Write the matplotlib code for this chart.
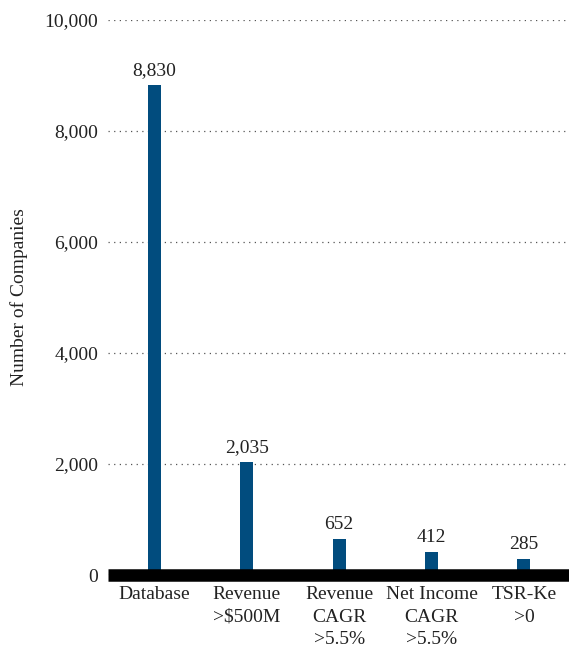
import numpy as np
import matplotlib.pyplot as plt

# funnel counts
stages = ["Database", "Revenue\n>$500M", "Revenue\nCAGR\n>5.5%", "Net Income\nCAGR\n>5.5%", "TSR-Ke\n>0"]
counts = [8830, 2035, 652, 412, 285]
yticks = [0, 2000, 4000, 6000, 8000, 10000]

plt.rcParams['font.family'] = ['Liberation Serif', 'DejaVu Serif']
fs = 14

fig = plt.figure(figsize=(5.69, 6.53), dpi=100)
ax = fig.add_axes([0.19, 0.1194, 0.812, 0.8500])

x = np.arange(len(stages))
ax.bar(x, counts, width=0.14, color='#014c7e', zorder=3)
for xi, c in zip(x, counts):
    ax.text(xi, c + 110, f"{c:,}", ha='center', va='bottom', fontsize=fs, color='#222222')

ax.set_xlim(-0.5, 4.5)
ax.set_ylim(0, 10000)
ax.set_yticks(yticks)
ax.set_yticklabels([f"{v:,}" for v in yticks], fontsize=fs, color='#222222')
ax.set_xticks(x)
ax.set_xticklabels(stages, fontsize=fs, color='#222222', linespacing=1.42)
ax.tick_params(axis='both', length=0)
ax.tick_params(axis='x', pad=8)
ax.tick_params(axis='y', pad=7)

ax.yaxis.grid(True, linestyle=(0, (1, 3.5)), color='#555555', linewidth=0.9, zorder=0)
for s in ['top', 'right', 'left']:
    ax.spines[s].set_visible(False)
ax.spines['bottom'].set_linewidth(9)
ax.spines['bottom'].set_color('black')
ax.spines['bottom'].set_capstyle('butt')
ax.spines['bottom'].set_zorder(4)

ax.set_ylabel("Number of Companies", fontsize=fs, color='#222222')
ax.yaxis.set_label_coords(-0.173, 0.5)

fig.savefig("out.png", dpi=100)
